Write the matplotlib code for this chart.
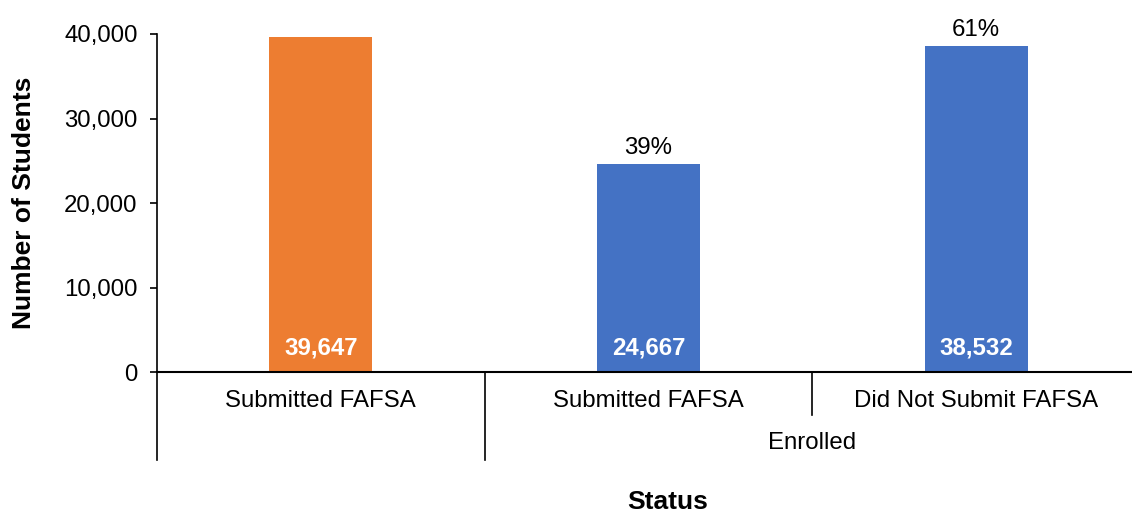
import matplotlib.pyplot as plt
import matplotlib.transforms as mtransforms
import numpy as np

plt.rcParams["font.family"] = ["Liberation Sans", "DejaVu Sans"]

labels = ["Submitted FAFSA", "Submitted FAFSA", "Did Not Submit FAFSA"]
group_labels = ["", "Enrolled"]
values = [39647, 24667, 38532]
pct = ["", "39%", "61%"]
colors = ["#ED7D31", "#4472C4", "#4472C4"]

fig = plt.figure(figsize=(11.32, 5.12), dpi=100)
ax = fig.add_axes([0.1387, 0.2734, 0.8684, 0.6602])

x = np.arange(len(values))
bars = ax.bar(x, values, width=0.315, color=colors)
ax.set_xlim(-0.5, 2.5)
ax.set_ylim(0, 40000)
ax.set_yticks([0, 10000, 20000, 30000, 40000])
ax.set_yticklabels(["{:,}".format(v) for v in [0, 10000, 20000, 30000, 40000]])
ax.tick_params(axis="y", labelsize=17.3, length=5, width=1.2, direction="out", pad=9)
ax.set_xticks([])

for s in ["top", "right"]:
    ax.spines[s].set_visible(False)
ax.spines["left"].set_linewidth(1.2)
ax.spines["bottom"].set_linewidth(1.5)

# value labels inside, percent on top
for b, v, p in zip(bars, values, pct):
    cx = b.get_x() + b.get_width() / 2
    ax.annotate("{:,}".format(v), (cx, 0), xytext=(0, 17), textcoords="offset points",
                ha="center", va="center", color="white", fontsize=17.3, fontweight="bold")
    if p:
        ax.annotate(p, (cx, v), xytext=(0, 11.5), textcoords="offset points",
                    ha="center", va="center", fontsize=17.3)

# two-level category axis
trans = mtransforms.blended_transform_factory(ax.transData, ax.transAxes)
px = 1.0 / (0.6602 * 512)
for i, lab in enumerate(labels):
    ax.text(i, -29 * px, lab, transform=trans, ha="center", va="center", fontsize=17.3)
ax.text(1.5, -71 * px, group_labels[1], transform=trans, ha="center", va="center", fontsize=17.3)

ax.plot([-0.5, -0.5], [0, -88 * px], transform=trans, color="black", lw=1.2, clip_on=False)
ax.plot([0.5, 0.5], [0, -88 * px], transform=trans, color="black", lw=1.2, clip_on=False)
ax.plot([1.5, 1.5], [0, -43 * px], transform=trans, color="black", lw=1.2, clip_on=False)

ax.set_ylabel("Number of Students", fontsize=19, fontweight="bold")
ax.yaxis.set_label_coords(-(157 - 36) / (0.8684 * 1132), 0.5)
fig.text(0.59, 1 - 502 / 512, "Status", ha="center", va="center", fontsize=19, fontweight="bold")

fig.savefig("out.png", dpi=100)
